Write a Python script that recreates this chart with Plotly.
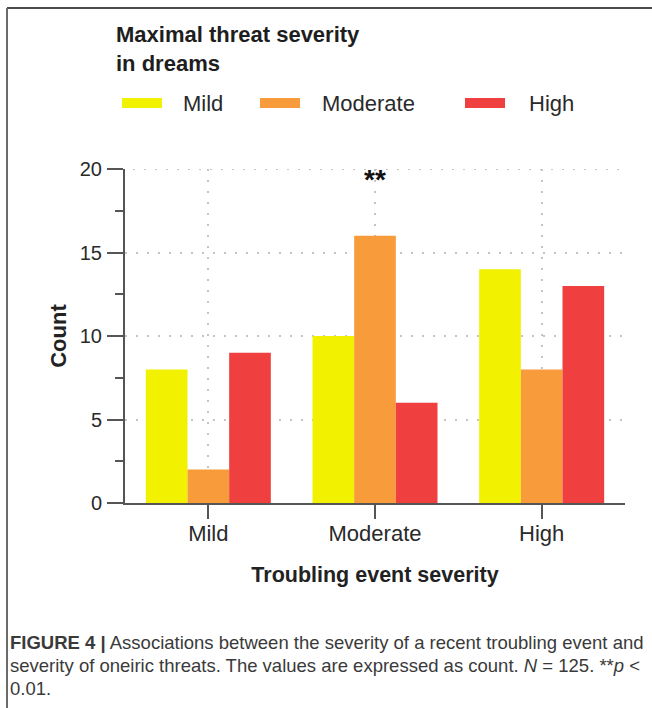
import plotly.graph_objects as go

# Data: counts of maximal dream-threat severity per troubling-event severity
categories = ["Mild", "Moderate", "High"]
threat_levels = ["Mild", "Moderate", "High"]
counts_mild = [8, 10, 14]
counts_moderate = [2, 16, 8]
counts_high = [9, 6, 13]
y_ticks = [0, 5, 10, 15, 20]
significance_label = "**"
significance_category = "Moderate"
significance_y = 19.4

colors = ["#F2F200", "#F89B3A", "#F03F3F"]
series = [counts_mild, counts_moderate, counts_high]

W, H = 652, 708
L, R, T, B = 125, 625, 169, 503
FONT = "Liberation Sans, Arial, Helvetica, sans-serif"
TEXT = "#2a2a2a"
AXIS = "#555555"
GRID = "#c4c4c4"
GRID_DASH = "2px,9px"


def px_x(x):
    return (x - L) / (R - L)


def px_y(y):
    return (B - y) / (B - T)


fig = go.Figure()
for name, vals, col in zip(threat_levels, series, colors):
    fig.add_trace(go.Bar(x=categories, y=vals, name=name,
                         marker=dict(color=col, line=dict(width=0)),
                         showlegend=False))

fig.update_layout(
    width=W, height=H,
    margin=dict(l=L, r=W - R, t=T, b=H - B, pad=0),
    paper_bgcolor="white", plot_bgcolor="white",
    barmode="group", bargap=0.25, bargroupgap=0,
    font=dict(family=FONT, color=TEXT),
    showlegend=False,
)

fig.update_xaxes(
    range=[-0.5, 2.5], showline=True, linecolor=AXIS, linewidth=2,
    ticks="outside", ticklen=14, tickwidth=2, tickcolor=AXIS,
    tickfont=dict(size=22, color=TEXT), ticklabelstandoff=-4,
    showgrid=True, gridcolor=GRID, gridwidth=2, griddash=GRID_DASH,
    zeroline=False,
    title=dict(text="<b>Troubling event severity</b>",
               font=dict(size=21.5, color="#222222"), standoff=22),
)
fig.update_yaxes(
    range=[0, 20], tickvals=y_ticks, showline=True, linecolor=AXIS, linewidth=2,
    ticks="outside", ticklen=16, tickwidth=2, tickcolor=AXIS,
    tickfont=dict(size=20, color=TEXT), ticklabelstandoff=1,
    minor=dict(dtick=2.5, ticks="outside", ticklen=8, tickwidth=2,
               tickcolor=AXIS, showgrid=False),
    showgrid=True, gridcolor=GRID, gridwidth=2, griddash=GRID_DASH,
    zeroline=False,
    title=dict(text="<b>Count</b>", font=dict(size=22, color="#222222"),
               standoff=7),
)

# Top gridline at the axis maximum
fig.add_shape(type="line", xref="x domain", yref="y",
              x0=px_x(133), x1=1, y0=y_ticks[-1], y1=y_ticks[-1],
              line=dict(color=GRID, width=2, dash=GRID_DASH), layer="below")

# Significance marker
fig.add_annotation(x=significance_category, y=significance_y,
                   text="<b>" + significance_label + "</b>", showarrow=False,
                   font=dict(size=28, color="#111111"),
                   xanchor="center", yanchor="middle")

# Legend block: title and wide colour swatches
fig.add_annotation(xref="paper", yref="paper", x=px_x(114), y=px_y(49),
                   text="<b>Maximal threat severity<br>in dreams</b>",
                   showarrow=False, xanchor="left", yanchor="middle",
                   align="left", font=dict(size=22, color="#1e1e1e"))
swatch_x = [122, 260, 465]
label_x = [181, 320, 527]
legend_y = 103
for name, col, sx, lx in zip(threat_levels, colors, swatch_x, label_x):
    fig.add_shape(type="rect", xref="paper", yref="paper",
                  x0=px_x(sx), x1=px_x(sx + 40),
                  y0=px_y(legend_y - 5), y1=px_y(legend_y + 5),
                  fillcolor=col, line=dict(width=0))
    fig.add_annotation(xref="paper", yref="paper", x=px_x(lx), y=px_y(legend_y),
                       text=name, showarrow=False, xanchor="left",
                       yanchor="middle", font=dict(size=22, color=TEXT))

# Frame lines along top and left edges
fig.add_shape(type="line", xref="paper", yref="paper",
              x0=px_x(7), x1=px_x(W + 2), y0=px_y(8), y1=px_y(8),
              line=dict(color="#4a4a4a", width=2))
fig.add_shape(type="line", xref="paper", yref="paper",
              x0=px_x(7), x1=px_x(7), y0=px_y(8), y1=px_y(H + 2),
              line=dict(color="#6a6a6a", width=2))

# Figure caption
caption_lines = [
    "<b>FIGURE 4 |</b> Associations between the severity of a recent troubling event and",
    "severity of oneiric threats. The values are expressed as count. <i>N</i> = 125. **<i>p</i> &lt;",
    "0.01.",
]
caption_y = [642, 665, 688]
for line, cy in zip(caption_lines, caption_y):
    fig.add_annotation(xref="paper", yref="paper", x=px_x(8), y=px_y(cy),
                       text=line, showarrow=False, xanchor="left",
                       yanchor="middle", align="left",
                       font=dict(size=18.5, color="#3a3a3a"))

fig.write_html("out.html")
